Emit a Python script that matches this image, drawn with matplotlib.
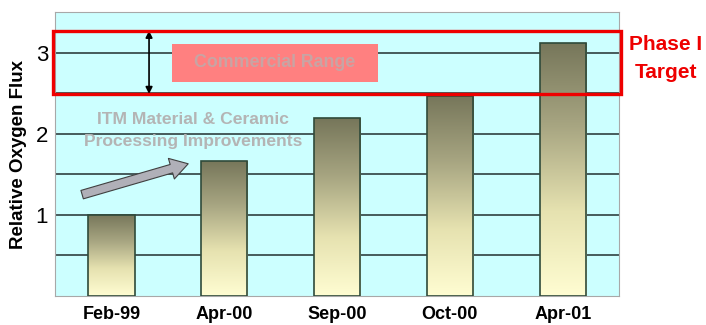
import matplotlib
matplotlib.use("Agg")
import matplotlib.pyplot as plt
import numpy as np
from matplotlib.patches import Rectangle
from matplotlib.colors import LinearSegmentedColormap
import matplotlib.transforms as mtransforms

plt.rcParams['font.family'] = ['Liberation Sans', 'DejaVu Sans']

# data
dates = ["Feb-99", "Apr-00", "Sep-00", "Oct-00", "Apr-01"]
flux = [1.0, 1.67, 2.19, 2.47, 3.12]
target_low, target_high = 2.49, 3.27

fig = plt.figure(figsize=(7.06, 3.25), dpi=100)
ax = fig.add_axes([0.078, 0.089, 0.799, 0.874])
ax.set_facecolor("#ccffff")

x = np.arange(len(dates))
bars = ax.bar(x, flux, width=0.41, color="none", edgecolor="#2f4a3a",
              linewidth=1.2, zorder=3)

# vertical gradient inside each bar: dark olive on top, pale yellow at bottom
cmap = LinearSegmentedColormap.from_list("olive", ["#fffdd2", "#e6e2b0", "#a8a682", "#76765a"])
grad = np.linspace(0, 1, 256).reshape(-1, 1)
for b in bars:
    x0, y0 = b.get_x(), b.get_y()
    im = ax.imshow(grad, cmap=cmap, origin="lower", aspect="auto",
                   extent=[x0, x0 + b.get_width(), y0, y0 + b.get_height()], zorder=2.5)
    im.set_clip_path(b)

ax.set_xlim(-0.5, len(dates) - 0.5)
ax.set_ylim(0, 3.5)
ax.set_xticks(x)
ax.set_xticklabels(dates, fontsize=13, fontweight="bold")
ax.set_yticks([1, 2, 3])
ax.set_yticklabels(["1", "2", "3"], fontsize=16)
ax.set_yticks([0.5, 1.5, 2.5], minor=True)
ax.tick_params(axis="both", which="both", length=0)
ax.tick_params(axis="x", pad=7)
ax.tick_params(axis="y", pad=5)
ax.grid(axis="y", which="both", color="#2f4040", linewidth=1.2, zorder=1)
ax.set_axisbelow(True)
for s in ax.spines.values():
    s.set_color("#a8a8a8")
ax.set_ylabel("Relative Oxygen Flux", fontsize=13.5, fontweight="bold", labelpad=6)

# red target box
trans = mtransforms.blended_transform_factory(ax.transAxes, ax.transData)
ax.add_patch(Rectangle((-0.004, target_low), 1.008, target_high - target_low,
                       transform=trans, fill=False, edgecolor="#ee0000",
                       linewidth=2.4, clip_on=False, zorder=6))

# commercial range label
ax.add_patch(Rectangle((0.54, 2.64), 1.82, 0.47, facecolor="#ff8080",
                       edgecolor="none", zorder=4))
ax.text(1.45, 2.875, "Commercial Range", ha="center", va="center",
        fontsize=12.8, fontweight="bold", color="#c8a4a4", zorder=5)

ax.annotate("", xy=(0.333, target_low), xytext=(0.333, target_high),
            arrowprops=dict(arrowstyle="<|-|>", color="black", lw=1.2,
                            mutation_scale=10, shrinkA=0, shrinkB=0), zorder=5)

ax.text(0.72, 2.04, "ITM Material & Ceramic\nProcessing Improvements",
        ha="center", va="center", fontsize=12.6, fontweight="bold",
        color="#b4b4b4", linespacing=1.65, zorder=5)

ax.annotate("", xy=(0.68, 1.63), xytext=(-0.26, 1.25),
            arrowprops=dict(arrowstyle="simple,head_length=0.9,head_width=1.1,tail_width=0.45",
                            mutation_scale=14, fc="#b0b0b8", ec="#404040", lw=0.8,
                            shrinkA=0, shrinkB=0), zorder=5)

fig.text(0.943, 0.862, "Phase I", ha="center", va="center", fontsize=15,
         fontweight="bold", color="#ee0000")
fig.text(0.943, 0.778, "Target", ha="center", va="center", fontsize=15,
         fontweight="bold", color="#ee0000")

fig.savefig("out.png", dpi=100)
